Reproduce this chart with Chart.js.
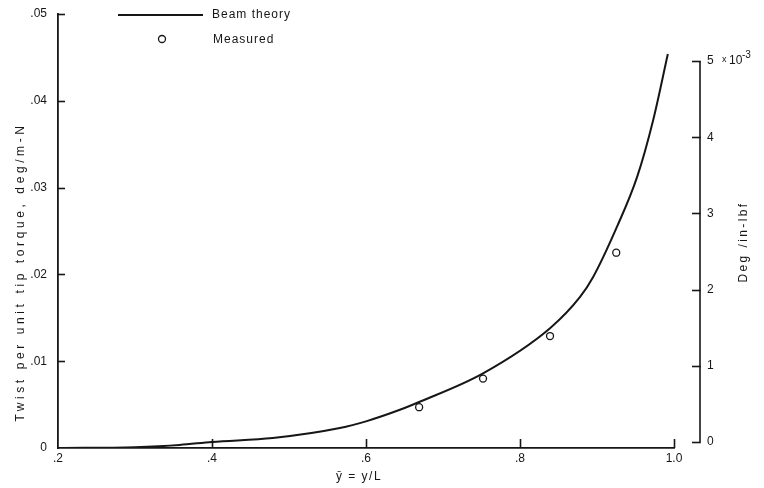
<!DOCTYPE html>
<html>
<head>
<meta charset="utf-8">
<script src="https://cdn.jsdelivr.net/npm/chart.js@4.4.1/dist/chart.umd.min.js"></script>
<style>
  html, body { margin: 0; padding: 0; background: #fff; }
  #wrap { width: 764px; height: 488px; }
</style>
</head>
<body>
<div id="wrap"><canvas id="grafico" width="764" height="488"></canvas></div>
<script>
// twist per unit tip torque along the span, beam theory vs measured
var teoriaX = [0.2, 0.3, 0.358, 0.4, 0.479, 0.566, 0.601, 0.644, 0.669, 0.752, 0.839, 0.878, 0.895, 0.926, 0.952, 0.973, 0.992];
var teoriaY = [0, 0.0001, 0.00035, 0.0007, 0.00115, 0.0023, 0.0031, 0.0044, 0.0053, 0.0086, 0.0138, 0.0174, 0.0197, 0.0255, 0.0312, 0.0378, 0.0454];
var medidoX = [0.669, 0.752, 0.839, 0.925];
var medidoY = [0.0047, 0.0080, 0.0129, 0.0225];

var ticksX = [0.2, 0.4, 0.6, 0.8, 1.0];
var rotulosX = ['.2', '.4', '.6', '.8', '1.0'];
var ticksY = [0, 0.01, 0.02, 0.03, 0.04, 0.05];
var rotulosY = ['0', '.01', '.02', '.03', '.04', '.05'];
var ticksDir = [0, 1, 2, 3, 4, 5];          // deg/in-lbf, x 10^-3

var preto = '#161616';
var fonte = '"Liberation Sans", Arial, sans-serif';

function pontos(xs, ys) {
    var out = [];
    for (var i = 0; i < xs.length; i++) out.push({ x: xs[i], y: ys[i] });
    return out;
}

function fixaTicks(valores) {
    return function (scale) {
        scale.ticks = valores.map(function (v) { return { value: v }; });
    };
}

// tick marks are drawn by hand, the hidden tick length only pushes the labels out
function gradeOculta(comp) {
    return { display: false, drawTicks: true, tickLength: comp };
}

var extras = {
    id: 'extras',
    afterDraw: function (chart) {
        var ctx = chart.ctx;
        var sx = chart.scales.x, sy = chart.scales.y, sd = chart.scales.yDir;
        var area = chart.chartArea;
        ctx.save();
        ctx.strokeStyle = preto;
        ctx.fillStyle = preto;
        ctx.lineWidth = 1.6;

        // inward ticks on the bottom axis
        ticksX.slice(1).forEach(function (v) {
            var px = Math.round(sx.getPixelForValue(v)) + 0.5;
            ctx.beginPath();
            ctx.moveTo(px, area.bottom);
            ctx.lineTo(px, area.bottom - 9);
            ctx.stroke();
        });
        // inward ticks on the left axis
        ticksY.slice(1).forEach(function (v) {
            var py = Math.round(sy.getPixelForValue(v)) + 0.5;
            ctx.beginPath();
            ctx.moveTo(area.left, py);
            ctx.lineTo(area.left + 7, py);
            ctx.stroke();
        });

        // right hand axis, set off from the plot
        var xr = area.right + 26;
        var y0 = sd.getPixelForValue(ticksDir[0]);
        var y5 = sd.getPixelForValue(ticksDir[ticksDir.length - 1]);
        ctx.beginPath();
        ctx.moveTo(xr, y0);
        ctx.lineTo(xr, y5);
        ctx.stroke();
        ticksDir.forEach(function (v) {
            var py = Math.round(sd.getPixelForValue(v)) + 0.5;
            ctx.beginPath();
            ctx.moveTo(xr - 8, py);
            ctx.lineTo(xr + 0.8, py);
            ctx.stroke();
        });

        // "x 10^-3" beside the top label
        ctx.textBaseline = 'middle';
        ctx.textAlign = 'left';
        ctx.font = '9px ' + fonte;
        ctx.fillText('x', xr + 22, y5 - 1);
        ctx.font = '12px ' + fonte;
        ctx.fillText('10', xr + 29, y5);
        ctx.font = '10px ' + fonte;
        ctx.fillText('-3', xr + 42, y5 - 6);

        // axis titles
        ctx.font = '12px ' + fonte;
        ctx.textAlign = 'center';
        ctx.letterSpacing = '3.6px';
        ctx.save();
        ctx.translate(21, 272);
        ctx.rotate(-Math.PI / 2);
        ctx.fillText('Twist per unit tip torque, deg/m-N', 0, 0);
        ctx.restore();

        ctx.letterSpacing = '2.4px';
        ctx.save();
        ctx.translate(744, 242);
        ctx.rotate(-Math.PI / 2);
        ctx.fillText('Deg /in-lbf', 0, 0);
        ctx.restore();

        ctx.letterSpacing = '1.5px';
        ctx.fillText('y\u0304 = y/L', 359, 477);

        // legend
        ctx.letterSpacing = '1px';
        ctx.textAlign = 'left';
        ctx.lineWidth = 2;
        ctx.beginPath();
        ctx.moveTo(118, 15);
        ctx.lineTo(203, 15);
        ctx.stroke();
        ctx.fillText('Beam theory', 212, 15);
        ctx.lineWidth = 1.3;
        ctx.beginPath();
        ctx.arc(162, 39, 3.5, 0, Math.PI * 2);
        ctx.fillStyle = '#fff';
        ctx.fill();
        ctx.stroke();
        ctx.fillStyle = preto;
        ctx.fillText('Measured', 213, 40);
        ctx.restore();
    }
};

var ctx = document.getElementById('grafico').getContext('2d');
var grafico = new Chart(ctx, {
    type: 'scatter',
    data: {
        datasets: [
            {
                label: 'Beam theory',
                data: pontos(teoriaX, teoriaY),
                showLine: true,
                borderColor: preto,
                borderWidth: 2,
                pointRadius: 0,
                cubicInterpolationMode: 'monotone',
                yAxisID: 'y'
            },
            {
                label: 'Measured',
                data: pontos(medidoX, medidoY),
                showLine: false,
                pointRadius: 3.5,
                pointBorderWidth: 1.3,
                pointBorderColor: preto,
                pointBackgroundColor: '#fff',
                yAxisID: 'y'
            }
        ]
    },
    options: {
        responsive: false,
        animation: false,
        devicePixelRatio: 1,
        layout: { padding: { top: 14, left: 0, right: 0, bottom: 0 } },
        plugins: { legend: { display: false }, tooltip: { enabled: false } },
        scales: {
            x: {
                type: 'linear',
                min: 0.2,
                max: 1.0,
                afterBuildTicks: fixaTicks(ticksX),
                afterFit: function (s) { s.height = 40; },
                grid: gradeOculta(2),
                border: { display: true, color: preto, width: 1.8 },
                ticks: {
                    padding: 1,
                    color: preto,
                    font: { family: fonte, size: 12 },
                    maxRotation: 0,
                    callback: function (v) { return rotulosX[ticksX.indexOf(v)]; }
                }
            },
            y: {
                type: 'linear',
                position: 'left',
                min: 0,
                max: 0.05,
                afterBuildTicks: fixaTicks(ticksY),
                afterFit: function (s) { s.width = 58; },
                grid: gradeOculta(10),
                border: { display: true, color: preto, width: 1.8 },
                ticks: {
                    padding: 1,
                    color: preto,
                    font: { family: fonte, size: 12 },
                    callback: function (v) { return rotulosY[ticksY.indexOf(v)]; }
                }
            },
            yDir: {
                type: 'linear',
                position: 'right',
                min: -0.079,
                max: 5.617,
                afterBuildTicks: fixaTicks(ticksDir),
                afterFit: function (s) { s.width = 90; },
                grid: gradeOculta(32),
                border: { display: false },
                ticks: {
                    padding: 1,
                    color: preto,
                    font: { family: fonte, size: 12 },
                    callback: function (v) { return String(v); }
                }
            }
        }
    },
    plugins: [extras]
});
</script>
</body>
</html>
